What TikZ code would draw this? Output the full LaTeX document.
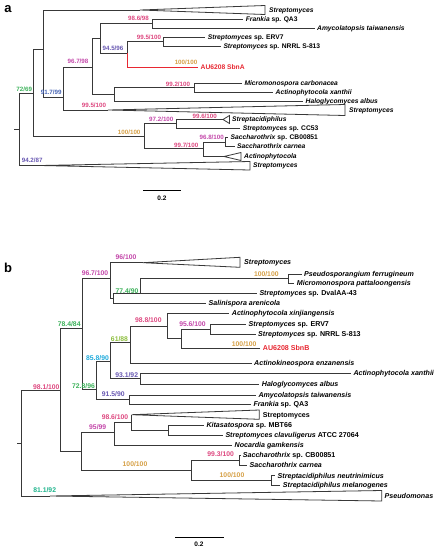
\documentclass[tikz,border=0pt]{standalone}
\usepackage{fontspec}
\setmainfont{Liberation Sans}
\definecolor{cpink}{RGB}{222,72,128}
\definecolor{cmag}{RGB}{196,72,170}
\definecolor{cviol}{RGB}{104,88,178}
\definecolor{cblue}{RGB}{70,100,180}
\definecolor{cgreen}{RGB}{60,178,90}
\definecolor{cyg}{RGB}{140,190,60}
\definecolor{cteal}{RGB}{30,180,140}
\definecolor{ccyan}{RGB}{30,170,220}
\definecolor{cgold}{RGB}{214,160,70}
\definecolor{cred}{RGB}{232,40,50}
\newcommand\tipfa{\fontsize{6.7}{7}\selectfont\bfseries}
\newcommand\tipfb{\fontsize{7.1}{8}\selectfont\bfseries}
\newcommand\labfa{\fontsize{6.2}{7}\selectfont\bfseries}
\newcommand\labfb{\fontsize{6.8}{7}\selectfont\bfseries}
\tikzset{
  br/.style={draw=black!78, line width=0.8pt},
  redbr/.style={draw=cred, line width=0.8pt},
  tipA/.style={anchor=west, inner sep=0pt, text height=4.6pt, text depth=0pt, font=\tipfa},
  tipB/.style={anchor=west, inner sep=0pt, text height=4.9pt, text depth=0pt, font=\tipfb},
  labA/.style={inner sep=0pt, text height=4.4pt, text depth=0pt, font=\labfa},
  labB/.style={inner sep=0pt, text height=4.8pt, text depth=0pt, font=\labfb},
  panel/.style={inner sep=0pt, font=\fontsize{13}{14}\selectfont\bfseries},
  sbar/.style={draw=black, line width=1.4pt},
  sblab/.style={inner sep=0pt, font=\fontsize{6.5}{7}\selectfont\bfseries}
}
% tip: name, x, y, style, text
\newcommand\tipat[5]{\node[#4] (#1) at (#2,#3) {#5};\coordinate (e#1) at ([xshift=-2.5pt]#1.west);}
\newcommand\lab[5]{\node[#4, text=#5] (#1) at (#2,#3) {#1x};}
\begin{document}
\begin{tikzpicture}[x=1pt,y=-1pt]
\useasboundingbox (0,0) rectangle (443,550);
\fill[white] (0,0) rectangle (443,550);
% ================= panel a =================
\node[panel] (pa) at (8,9.5) {a};
\coordinate (ra0) at (14,129);
\coordinate (ra) at (19,129);
\coordinate (A1) at (33,93);
\coordinate (A2) at (43,49);
\coordinate (A3) at (63,97);
\coordinate (A4) at (92,67);
\coordinate (A5) at (100,38);
\coordinate (A6) at (114,94);
\coordinate (A7) at (152,23.5);
\coordinate (A8) at (127,53);
\coordinate (A9) at (163,41.5);
\coordinate (A10) at (194,87.5);
\coordinate (B1) at (144,136);
\coordinate (B2) at (176,123.5);
\coordinate (B3) at (203,148);
\coordinate (B4) at (225,142.5);
\coordinate (T1) at (140,10);
\coordinate (T2) at (108,110);
\coordinate (T3) at (40,165.5);
\coordinate (T4) at (223,119.5);
\coordinate (T5) at (224,156.5);
% tips
\tipat{FrA}{245.7}{19.5}{tipA}{\textit{Frankia} sp. QA3}
\tipat{AmA}{317}{28.5}{tipA}{\textit{Amycolatopsis taiwanensis}}
\tipat{ERa}{207.7}{37}{tipA}{\textit{Streptomyces} sp. ERV7}
\tipat{NRa}{223.3}{46}{tipA}{\textit{Streptomyces} sp. NRRL S-813}
\tipat{AUa}{200.5}{67}{tipA, text=cred}{AU6208 SbnA}
\tipat{McA}{244.3}{83}{tipA}{\textit{Micromonospora carbonacea}}
\tipat{AxA}{275.5}{92}{tipA}{\textit{Actinophytocola xanthii}}
\tipat{HaA}{305.5}{101}{tipA}{\textit{Haloglycomyces albus}}
\tipat{CC}{242.7}{128.5}{tipA}{\textit{Streptomyces} sp. CC53}
\tipat{CB}{230.5}{137.5}{tipA}{\textit{Saccharothrix} sp. CB00851}
\tipat{Sc}{237}{146.5}{tipA}{\textit{Saccharothrix carnea}}
\node[tipA] (St1) at (269,10) {\textit{Streptomyces}};
\node[tipA] (St2) at (349,110) {\textit{Streptomyces}};
\node[tipA] (Sp) at (232,119.5) {\textit{Streptacidiphilus}};
\node[tipA] (Ac) at (244,156.5) {\textit{Actinophytocola}};
\node[tipA] (St3) at (253,165.5) {\textit{Streptomyces}};
% collapsed clades
\draw[br, line join=miter] (T1) -- (265,5.5) -- (265,14.5) -- cycle;
\draw[br, line join=miter] (T2) -- (345,104.5) -- (345,115.5) -- cycle;
\draw[br, line join=miter] (T3) -- (250,161.5) -- (250,170) -- cycle;
\draw[br, line join=miter] (T4) -- (229.5,115.5) -- (229.5,123.5) -- cycle;
\draw[br, line join=miter] (T5) -- (241,152.5) -- (241,160.5) -- cycle;
% branches
\draw[br] (ra0) -- (ra);
\draw[br] (ra) |- (A1);
\draw[br] (ra) |- (T3);
\draw[br] (A1) |- (A2);
\draw[br] (A1) |- (B1);
\draw[br] (A2) |- (T1);
\draw[br] (A2) |- (A3);
\draw[br] (A3) |- (A4);
\draw[br] (A3) |- (T2);
\draw[br] (A4) |- (A5);
\draw[br] (A4) |- (A6);
\draw[br] (A5) |- (A7);
\draw[br] (A5) |- (A8);
\draw[br] (A7) |- (eFrA);
\draw[br] (A7) |- (eAmA);
\draw[br] (A8) |- (A9);
\draw[redbr] (A8) |- (eAUa);
\draw[br] (A9) |- (eERa);
\draw[br] (A9) |- (eNRa);
\draw[br] (A6) |- (A10);
\draw[br] (A6) |- (eHaA);
\draw[br] (A10) |- (eMcA);
\draw[br] (A10) |- (eAxA);
\draw[br] (B1) |- (B2);
\draw[br] (B1) |- (B3);
\draw[br] (B2) |- (T4);
\draw[br] (B2) |- (eCC);
\draw[br] (B3) |- (B4);
\draw[br] (B3) |- (T5);
\draw[br] (B4) |- (eCB);
\draw[br] (B4) |- (eSc);
% support labels
\node[labA, text=cpink] (la1) at (138.5,18.5) {98.6/98};
\node[labA, text=cpink] (la2) at (149,37) {99.5/100};
\node[labA, text=cviol] (la3) at (113,48.5) {94.5/96};
\node[labA, text=cgold] (la4) at (186,62) {100/100};
\node[labA, text=cmag] (la5) at (78,61.3) {96.7/98};
\node[labA, text=cblue] (la6) at (51.2,92.7) {91.7/99};
\node[labA, text=cgreen] (la7) at (24.2,89) {72/69};
\node[labA, text=cpink] (la8) at (178,84) {99.2/100};
\node[labA, text=cpink] (la9) at (94,105) {99.5/100};
\node[labA, text=cmag] (la10) at (161.3,119.3) {97.2/100};
\node[labA, text=cpink] (la11) at (204.7,116.7) {99.6/100};
\node[labA, text=cgold] (la12) at (129.2,132.7) {100/100};
\node[labA, text=cmag] (la13) at (211.7,137.7) {96.8/100};
\node[labA, text=cpink] (la14) at (186.2,145) {99.7/100};
\node[labA, text=cviol] (la15) at (32.2,160) {94.2/87};
% scale bar a
\coordinate (sa1) at (143,190.7);
\coordinate (sa2) at (181,190.7);
\draw[sbar] (sa1) -- (sa2);
\node[sblab] (sal) at (162,198) {0.2};
% ================= panel b =================
\node[panel] (pb) at (8,268) {b};
\coordinate (rb0) at (17,443.3);
\coordinate (rb) at (21.7,443.3);
\coordinate (C1) at (60.7,390.7);
\coordinate (C2) at (82.7,328.3);
\coordinate (C3) at (81.7,451.7);
\coordinate (P) at (110,278.3);
\coordinate (Q) at (113,298);
\coordinate (S) at (140,293.3);
\coordinate (Ps) at (288.3,278.5);
\coordinate (N72) at (96.7,389);
\coordinate (N85) at (110,361.7);
\coordinate (N61) at (130,342.7);
\coordinate (N98) at (167,326);
\coordinate (N95) at (181.7,338.5);
\coordinate (N956) at (210,329);
\coordinate (N93) at (140,378.3);
\coordinate (N91) at (129.3,399.5);
\coordinate (N114) at (114,432.7);
\coordinate (N131) at (131.7,422.7);
\coordinate (N168) at (168.3,430);
\coordinate (N192) at (191.7,470);
\coordinate (N240) at (239.5,460);
\coordinate (N272) at (271.7,480.5);
\coordinate (U1) at (143,262.7);
\coordinate (U2) at (131.7,414.7);
\coordinate (U3) at (50,496);
% tips
\tipat{Pf}{304}{274}{tipB}{\textit{Pseudosporangium ferrugineum}}
\tipat{Mp}{296.7}{283.3}{tipB}{\textit{Micromonospora pattaloongensis}}
\tipat{Dv}{259.3}{293.3}{tipB}{\textit{Streptomyces} sp. DvalAA-43}
\tipat{Sa}{208.5}{303.3}{tipB}{\textit{Salinispora arenicola}}
\tipat{Axj}{231.7}{313.3}{tipB}{\textit{Actinophytocola xinjiangensis}}
\tipat{ERb}{248.5}{324}{tipB}{\textit{Streptomyces} sp. ERV7}
\tipat{NRb}{258}{334}{tipB}{\textit{Streptomyces} sp. NRRL S-813}
\tipat{AUb}{262.7}{348.3}{tipB, text=cred}{AU6208 SbnB}
\tipat{Ak}{254}{363.5}{tipB}{\textit{Actinokineospora enzanensis}}
\tipat{Axb}{353.3}{373.3}{tipB}{\textit{Actinophytocola xanthii}}
\tipat{Hab}{261.7}{384}{tipB}{\textit{Haloglycomyces albus}}
\tipat{Amb}{258.3}{395}{tipB}{\textit{Amycolatopsis taiwanensis}}
\tipat{Frb}{253.3}{404.3}{tipB}{\textit{Frankia} sp. QA3}
\tipat{Ki}{206.3}{425}{tipB}{\textit{Kitasatospora} sp. MBT66}
\tipat{Scl}{225.3}{435}{tipB}{\textit{Streptomyces clavuligerus} ATCC 27064}
\tipat{No}{234.5}{445}{tipB}{\textit{Nocardia gamkensis}}
\tipat{CBb}{242.7}{455}{tipB}{\textit{Saccharothrix} sp. CB00851}
\tipat{Scb}{249.5}{465}{tipB}{\textit{Saccharothrix carnea}}
\tipat{Sn}{277.5}{475.7}{tipB}{\textit{Streptacidiphilus neutrinimicus}}
\tipat{Sm}{282.7}{485.3}{tipB}{\textit{Streptacidiphilus melanogenes}}
\node[tipB] (StB1) at (244,262.5) {\textit{Streptomyces}};
\node[tipB] (StB2) at (262.7,414.7) {Streptomyces};
\node[tipB] (Pm) at (384.5,496) {\textit{Pseudomonas}};
% collapsed clades
\draw[br, line join=miter] (U1) -- (240,257.3) -- (240,267.3) -- cycle;
\draw[br, line join=miter] (U2) -- (259.3,410) -- (259.3,419.3) -- cycle;
\draw[br, line join=miter] (U3) -- (381.7,490.5) -- (381.7,501) -- cycle;
% branches
\draw[br] (rb0) -- (rb);
\draw[br] (rb) |- (C1);
\draw[br] (rb) |- (U3);
\draw[br] (C1) |- (C2);
\draw[br] (C1) |- (C3);
\draw[br] (C2) |- (P);
\draw[br] (C2) |- (N72);
\draw[br] (P) |- (U1);
\draw[br] (P) |- (Q);
\draw[br] (Q) |- (S);
\draw[br] (Q) |- (eSa);
\draw[br] (S) |- (Ps);
\draw[br] (S) |- (eDv);
\draw[br] (Ps) |- (ePf);
\draw[br] (Ps) |- (eMp);
\draw[br] (N72) |- (N85);
\draw[br] (N72) |- (N91);
\draw[br] (N85) |- (N61);
\draw[br] (N85) |- (N93);
\draw[br] (N61) |- (N98);
\draw[br] (N61) |- (eAk);
\draw[br] (N98) |- (eAxj);
\draw[br] (N98) |- (N95);
\draw[br] (N95) |- (N956);
\draw[br] (N95) |- (eAUb);
\draw[br] (N956) |- (eERb);
\draw[br] (N956) |- (eNRb);
\draw[br] (N93) |- (eAxb);
\draw[br] (N93) |- (eHab);
\draw[br] (N91) |- (eAmb);
\draw[br] (N91) |- (eFrb);
\draw[br] (C3) |- (N114);
\draw[br] (C3) |- (N192);
\draw[br] (N114) |- (N131);
\draw[br] (N114) |- (eNo);
\draw[br] (N131) |- (U2);
\draw[br] (N131) |- (N168);
\draw[br] (N168) |- (eKi);
\draw[br] (N168) |- (eScl);
\draw[br] (N192) |- (N240);
\draw[br] (N192) |- (N272);
\draw[br] (N240) |- (eCBb);
\draw[br] (N240) |- (eScb);
\draw[br] (N272) |- (eSn);
\draw[br] (N272) |- (eSm);
% support labels
\node[labB, text=cmag] (lb1) at (126,256.7) {96/100};
\node[labB, text=cmag] (lb2) at (95,273.3) {96.7/100};
\node[labB, text=cgold] (lb3) at (266.3,274) {100/100};
\node[labB, text=cgreen] (lb4) at (127,290.7) {77.4/90};
\node[labB, text=cgreen] (lb5) at (69.2,324) {78.4/84};
\node[labB, text=cpink] (lb6) at (148.3,320) {98.8/100};
\node[labB, text=cmag] (lb7) at (192.5,324) {95.6/100};
\node[labB, text=cgold] (lb8) at (244.2,344.3) {100/100};
\node[labB, text=cyg] (lb9) at (119.5,338.8) {61/88};
\node[labB, text=ccyan] (lb10) at (97.5,358.3) {85.8/90};
\node[labB, text=cviol] (lb11) at (126.7,374.7) {93.1/92};
\node[labB, text=cgreen] (lb12) at (83.5,386) {72.8/96};
\node[labB, text=cviol] (lb13) at (113.3,394) {91.5/90};
\node[labB, text=cpink] (lb14) at (46.3,386.7) {98.1/100};
\node[labB, text=cpink] (lb15) at (115,417.3) {98.6/100};
\node[labB, text=cmag] (lb16) at (97.7,426.7) {95/99};
\node[labB, text=cpink] (lb17) at (220.7,454) {99.3/100};
\node[labB, text=cgold] (lb18) at (135,464) {100/100};
\node[labB, text=cgold] (lb19) at (232,475) {100/100};
\node[labB, text=cteal] (lb20) at (44.7,490) {81.1/92};
% scale bar b
\coordinate (sb1) at (175,537.3);
\coordinate (sb2) at (224,537.3);
\draw[sbar] (sb1) -- (sb2);
\node[sblab] (sbl) at (199,544.5) {0.2};
\end{tikzpicture}
\end{document}
